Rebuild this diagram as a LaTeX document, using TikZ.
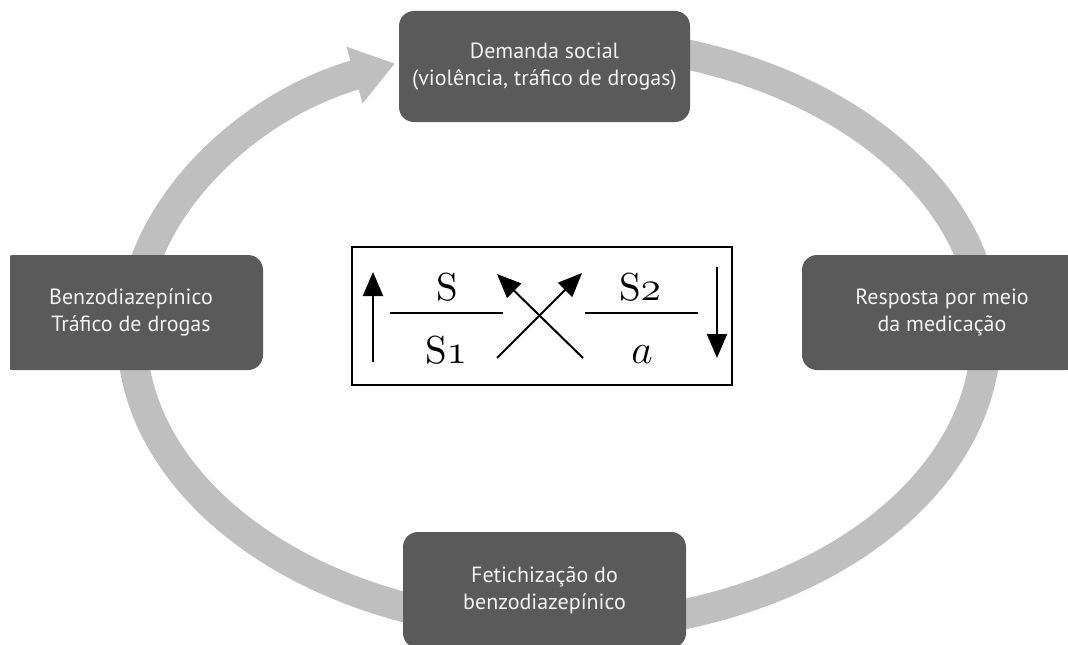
\documentclass[tikz,border=0pt]{standalone}
\usepackage{fontspec}
\newfontfamily\boxfont{PT Sans}
\newfontfamily\formfont{lmroman10-regular}[Extension=.otf]
\usepackage{tikz}
\usetikzlibrary{arrows.meta,positioning}
\definecolor{ringgray}{HTML}{BFBFBF}
\definecolor{boxgray}{HTML}{5A5A5A}
\definecolor{boxtext}{HTML}{F2F2F2}
\tikzset{>=latex,
  stage/.style={fill=boxgray, rounded corners=7.5pt, text=boxtext, align=center,
    inner sep=0pt, font=\boxfont\fontsize{11}{13.5}\selectfont},
  term/.style={anchor=base, inner sep=0pt, font=\formfont\fontsize{19.5}{22}\selectfont},
  turn/.style={line width=1pt, -{Triangle[length=12pt,width=10pt]}}
}

\begin{document}
\begin{tikzpicture}[x=0.5pt,y=0.5pt]
    \useasboundingbox (0,0) rectangle (1068,644);
    \clip (10,0) rectangle (1068,644);
    % the cycle
    \draw [ringgray, line width=15pt, -{Triangle[length=21pt,width=28pt]}]
      ([shift={(80:213.5pt and 146.5pt)}]559,310)
      arc [start angle=80, end angle=-247.4, x radius=213.5pt, y radius=146.5pt];
    % the four stages
    \node [stage, minimum width=145.5pt, minimum height=55.5pt] (demanda) at (544.5,577.5)
      {Demanda social\\(violência, tráfico de drogas)};
    \node [stage, minimum width=140pt, minimum height=57.5pt] (resposta) at (942,331.5)
      {Resposta por meio\\da medicação};
    \node [stage, minimum width=141.5pt, minimum height=58pt] (fetiche) at (544.5,54)
      {Fetichização do\\benzodiazepínico};
    \node [stage, minimum width=132pt, minimum height=57.5pt] (benzo) at (131,331.5)
      {Benzodiazepínico\\Tráfico de drogas};
    % the discourse
    \draw [line width=0.6pt] (352,259) rectangle (732,397);
    \node [term] (agente) at (447,344) {S};
    \node [term] (verdade) at (446,281) {S$\mathnormal{1}$};
    \node [term] (outro) at (640,344) {S$\mathnormal{2}$};
    \node [term] (producao) at (642,281) {$a$};
    \draw [line width=0.9pt] (390,331) -- (503,331);
    \draw [line width=0.9pt] (585,331) -- (698,331);
    \coordinate (upfoot) at (373,282);
    \coordinate (uptip) at (373,372);
    \coordinate (downfoot) at (717,377);
    \coordinate (downtip) at (717,286);
    \coordinate (crossa) at (497,286);
    \coordinate (crossb) at (582,371);
    \coordinate (crossc) at (583,286);
    \coordinate (crossd) at (497,370);
    \draw [turn] (upfoot) -- (uptip);
    \draw [turn] (downfoot) -- (downtip);
    \draw [turn] (crossa) -- (crossb);
    \draw [turn] (crossc) -- (crossd);
  \end{tikzpicture}
\end{document}
